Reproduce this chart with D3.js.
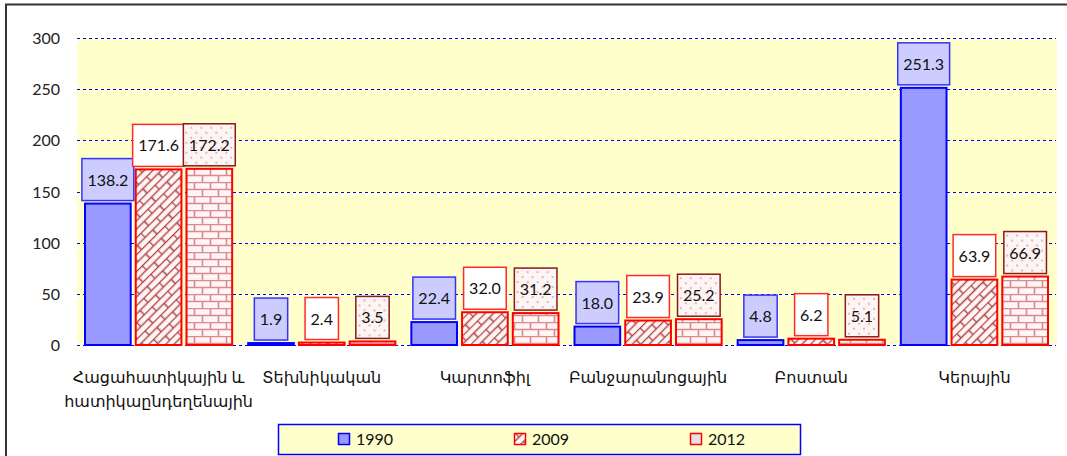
<!DOCTYPE html>
<html>
<head>
<meta charset="utf-8">
<script src="https://cdn.jsdelivr.net/npm/d3@7"></script>
<style>
  body { margin: 0; background: #fff; }
  svg { display: block; font-family: Lato, "DejaVu Sans", sans-serif; }
</style>
</head>
<body>
<div class="container"></div>
<script>
let categories = [
  ["Հացահատիկային և", "հատիկաընդեղենային"],
  ["Տեխնիկական"],
  ["Կարտոֆիլ"],
  ["Բանջարանոցային"],
  ["Բոստան"],
  ["Կերային"]
]
let years = ["1990", "2009", "2012"]
let v1990 = [138.2, 1.9, 22.4, 18.0, 4.8, 251.3]
let v2009 = [171.6, 2.4, 32.0, 23.9, 6.2, 63.9]
let v2012 = [172.2, 3.5, 31.2, 25.2, 5.1, 66.9]
let yTicks = [0, 50, 100, 150, 200, 250, 300]

let series = [v1990, v2009, v2012]
let rows = []
categories.forEach((c, i) => {
  years.forEach((yr, j) => rows.push({cat: i, year: yr, value: series[j][i]}))
})

let svg = d3.select('.container')
    .append('svg')
    .attr('width', 1067)
    .attr('height', 456)

let defs = svg.append('defs')

// diagonal brick (2009)
let p1 = defs.append('pattern')
    .attr('id', 'diag')
    .attr('patternUnits', 'userSpaceOnUse')
    .attr('width', 22).attr('height', 12)
    .attr('patternTransform', 'rotate(-45)')
p1.append('rect').attr('width', 22).attr('height', 12).attr('fill', '#fff7f7')
p1.append('path')
    .attr('d', 'M0,0.5H22M0,6.5H22M0.5,0V6.5M11.5,6V12')
    .attr('stroke', '#b54545').attr('stroke-width', 1.6).attr('fill', 'none')

// horizontal brick (2012)
let p2 = defs.append('pattern')
    .attr('id', 'brick')
    .attr('patternUnits', 'userSpaceOnUse')
    .attr('width', 16).attr('height', 14)
p2.append('rect').attr('width', 16).attr('height', 14).attr('fill', '#fff4f6')
p2.append('path')
    .attr('d', 'M0,0.5H16M0,7.5H16M2.5,0V7M10.5,7V14')
    .attr('stroke', '#d88c8c').attr('stroke-width', 1.6).attr('fill', 'none')

// dots (2012 label box)
let p3 = defs.append('pattern')
    .attr('id', 'dots')
    .attr('patternUnits', 'userSpaceOnUse')
    .attr('width', 10).attr('height', 10)
p3.append('rect').attr('width', 10).attr('height', 10).attr('fill', '#fdf4f4')
p3.append('circle').attr('cx', 2).attr('cy', 3).attr('r', 1).attr('fill', '#d9a3a3')
p3.append('circle').attr('cx', 7).attr('cy', 8).attr('r', 1).attr('fill', '#d9a3a3')

// outer frame
svg.append('path')
    .attr('d', 'M6,456V4.5H1067')
    .attr('fill', 'none')
    .attr('stroke', '#333')
    .attr('stroke-width', 2)

let x0 = d3.scaleBand()
    .domain(d3.range(categories.length))
    .range([77, 1056])
    .padding(0)

let x1 = d3.scaleBand()
    .domain(years)
    .range([7, x0.bandwidth() - 7])
    .paddingInner(0.06)

let y = d3.scaleLinear()
    .domain([0, 300])
    .range([345, 38])

// plot background
svg.append('rect')
    .attr('x', 77).attr('y', y(300))
    .attr('width', 1057 - 77).attr('height', y(0) - y(300))
    .attr('fill', '#ffffcc')

// grid
svg.append('g')
    .selectAll('line')
    .data(yTicks)
    .enter().append('line')
    .attr('x1', 77).attr('x2', 1056)
    .attr('y1', d => Math.round(y(d)) + 0.5)
    .attr('y2', d => Math.round(y(d)) + 0.5)
    .attr('stroke', '#0000ff')
    .attr('stroke-width', 1)
    .attr('stroke-dasharray', '3,3')

svg.append('g')
    .selectAll('text')
    .data(yTicks)
    .enter().append('text')
    .attr('x', 60)
    .attr('y', d => y(d) + 6)
    .attr('text-anchor', 'end')
    .attr('font-size', 16)
    .attr('fill', '#222')
    .text(d => d)

let barFill = {'1990': '#9999ff', '2009': 'url(#diag)', '2012': 'url(#brick)'}
let barStroke = {'1990': '#0000ff', '2009': '#ff0000', '2012': '#ff0000'}
let boxFill = {'1990': '#ccccff', '2009': '#ffffff', '2012': 'url(#dots)'}
let boxStroke = {'1990': '#3333ff', '2009': '#ff2a2a', '2012': '#8a1a1a'}

let bars = svg.append('g')
    .selectAll('rect')
    .data(rows)
    .enter().append('rect')
    .attr('x', d => x0(d.cat) + x1(d.year) + 1)
    .attr('y', d => y(d.value))
    .attr('width', x1.bandwidth() - 2)
    .attr('height', d => Math.max(1, y(0) - y(d.value)))
    .attr('fill', d => barFill[d.year])
    .attr('stroke', d => barStroke[d.year])
    .attr('stroke-width', 2)

let fmt = d3.format('.1f')
let labels = svg.append('g')
    .selectAll('g')
    .data(rows)
    .enter().append('g')
    .attr('transform', d => 'translate(' + (x0(d.cat) + x1(d.year) + x1.bandwidth() / 2) + ',' + (y(d.value) - 3 - 21) + ')')

labels.append('rect')
labels.append('text')
    .attr('text-anchor', 'middle')
    .attr('y', 6)
    .attr('font-size', 16)
    .attr('fill', '#111')
    .text(d => fmt(d.value))

labels.each(function(d) {
  let g = d3.select(this)
  let w = g.select('text').node().getComputedTextLength() + 11
  g.select('rect')
    .attr('x', -w / 2).attr('y', -21)
    .attr('width', w).attr('height', 42)
    .attr('fill', boxFill[d.year])
    .attr('stroke', boxStroke[d.year])
    .attr('stroke-width', 1.5)
})

// category labels
let cats = svg.append('g')
    .selectAll('text')
    .data(categories)
    .enter().append('text')
    .attr('x', (d, i) => x0(i) + x0.bandwidth() / 2)
    .attr('y', 383)
    .attr('text-anchor', 'middle')
    .attr('font-size', 16)
    .attr('fill', '#111')

cats.selectAll('tspan')
    .data(d => d)
    .enter().append('tspan')
    .attr('x', function() { return d3.select(this.parentNode).attr('x') })
    .attr('dy', (d, i) => i == 0 ? 0 : 24)
    .text(d => d)

// legend
let legend = svg.append('g')
legend.append('rect')
    .attr('x', 278.5).attr('y', 424.5)
    .attr('width', 522).attr('height', 30)
    .attr('fill', '#ffffcc')
    .attr('stroke', '#0000ff')
    .attr('stroke-width', 1.5)

let legX = d3.scalePoint()
    .domain(years)
    .range([338, 690])

let swatchFill = {'1990': '#9999ff', '2009': 'url(#diag)', '2012': '#e6dfe6'}
let swatchStroke = {'1990': '#0000ff', '2009': '#ff0000', '2012': '#ff0000'}

let items = legend.selectAll('g')
    .data(years)
    .enter().append('g')
    .attr('transform', d => 'translate(' + legX(d) + ',433)')

items.append('rect')
    .attr('x', 0.5).attr('y', 0.5)
    .attr('width', 11).attr('height', 11)
    .attr('fill', d => swatchFill[d])
    .attr('stroke', d => swatchStroke[d])
    .attr('stroke-width', 1.5)

items.append('text')
    .attr('x', 18).attr('y', 12)
    .attr('font-size', 16)
    .attr('fill', '#111')
    .text(d => d)
</script>
</body>
</html>
